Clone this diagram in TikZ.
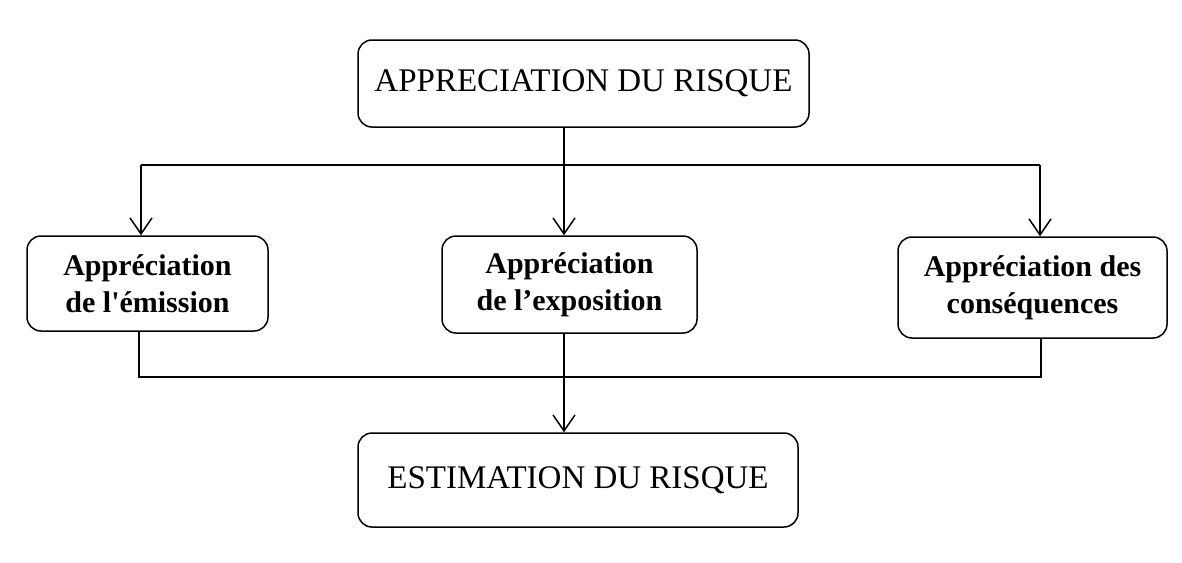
\documentclass[tikz,border=0pt]{standalone}
\usepackage{fontspec}
\setmainfont{Liberation Serif}
\usetikzlibrary{arrows.meta}

\tikzset{
	bigbox/.style={shape=rectangle,draw=black,line width=1.5pt,rounded corners=14pt,
		font=\fontsize{33}{39}\selectfont,inner sep=0pt},
	smallbox/.style={shape=rectangle,draw=black,line width=1.5pt,rounded corners=14pt,
		font=\fontsize{30}{37}\selectfont\bfseries,align=center,inner sep=0pt},
	flow/.style={line width=1.5pt,-{Straight Barb[length=16pt,width=22pt,line width=1.5pt]}},
	link/.style={line width=1.5pt}
}

\begin{document}
\begin{tikzpicture}[x=1pt,y=-1pt]
	\useasboundingbox (0,0) rectangle (1182,562);

	\node[bigbox,minimum width=451pt,minimum height=87pt] (top) at (583.5, 83.5) {APPRECIATION DU RISQUE};
	\node[smallbox,minimum width=241pt,minimum height=95pt] (emis) at (147.5, 283.5) {Appréciation\\de l\textquotesingle émission};
	\node[smallbox,minimum width=255pt,minimum height=97pt] (expo) at (569.5, 284.5) {Appréciation\\de l’exposition};
	\node[smallbox,minimum width=269pt,minimum height=101pt] (cons) at (1032.5, 287.5) {Appréciation des\\conséquences};
	\node[bigbox,minimum width=440pt,minimum height=94pt] (est) at (578, 480) {ESTIMATION DU RISQUE};

	\coordinate (busT) at (564, 165);
	\coordinate (colL) at (141, 165);
	\coordinate (colR) at (1040, 165);
	\coordinate (busL) at (139, 377);
	\coordinate (busR) at (1041, 377);

	\draw[flow] (top.south -| busT) -- (busT |- expo.north);
	\draw[link] (colL) -- (colR);
	\draw[flow] (colL) -- (colL |- emis.north);
	\draw[flow] (colR) -- (colR |- cons.north);

	\draw[link] (emis.south -| busL) -- (busL) -- (busR) -- (busR |- cons.south);
	\draw[flow] (expo.south -| busT) -- (busT |- est.north);

\end{tikzpicture}
\end{document}
